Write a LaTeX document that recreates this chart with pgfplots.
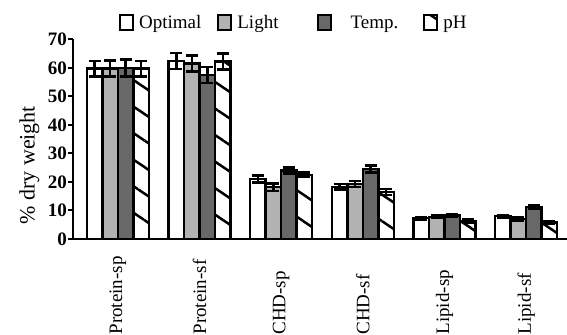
\documentclass[border=0pt]{standalone}
\usepackage{fontspec}
\setmainfont{Liberation Serif}
\usepackage{pgfplots}
\pgfplotsset{compat=1.18}
\usetikzlibrary{patterns.meta,calc}
\definecolor{lightbar}{HTML}{B2B2B2}
\definecolor{darkbar}{HTML}{686868}
\pgfplotsset{
  mybar/.style={draw=black, line width=2.5bp,
    error bars/.cd, y dir=both, y explicit,
    error bar style={line width=2.5bp, black, solid},
    error mark options={rotate=90, line width=2.5bp, mark size=6bp, black, solid},
    /pgfplots/.cd},
}
\begin{document}
\begin{tikzpicture}
\begin{axis}[name=ax,
  scale only axis, width=494bp, height=199.5bp,
  xmin=-0.55, xmax=5.5, ymin=0, ymax=70,
  axis lines*=left, axis line style={line width=2.5bp},
  ybar=0pt, bar width=15.5bp,
  xtick={0,...,5},
  xticklabels={Protein-sp,Protein-sf,CHD-sp,CHD-sf,Lipid-sp,Lipid-sf},
  x tick style={draw=none},
  ytick={0,10,...,70},
  y tick style={line width=2bp, black},
  tick align=outside, major tick length=5bp,
  /pgf/number format/assume math mode=true,
  yticklabel style={font=\fontsize{19bp}{22bp}\selectfont\bfseries, inner sep=1bp},
  xticklabel style={font=\fontsize{19bp}{22bp}\selectfont, rotate=90, anchor=west, xshift=-94bp},
  ylabel={\% dry weight},
  every axis y label/.style={at={(ticklabel cs:0.37)}, rotate=90, anchor=south,
    font=\fontsize{22bp}{24bp}\selectfont, yshift=4bp},
  legend columns=4,
  legend style={draw=none, fill=none, at={(rel axis cs:0.093,1.083)}, anchor=west,
    font=\fontsize{19bp}{22bp}\selectfont, inner sep=0pt,
    /tikz/every even column/.append style={column sep=14bp},
    /tikz/every odd column/.append style={column sep=3bp}},
  legend image code/.code={\draw[#1,line width=2bp] (0bp,-7.5bp) rectangle (13bp,7.5bp);},
]
\addplot[fill=white, mybar] coordinates {
  (0,59.8) +- (0,2.7)
  (1,62.5) +- (0,2.8)
  (2,21.0) +- (0,1.2)
  (3,18.3) +- (0,1.0)
  (4,7.3) +- (0,0.5)
  (5,8.0) +- (0,0.5)
};
\addplot[fill=lightbar, mybar] coordinates {
  (0,59.8) +- (0,2.8)
  (1,61.5) +- (0,2.8)
  (2,18.2) +- (0,1.3)
  (3,19.3) +- (0,1.0)
  (4,7.8) +- (0,0.5)
  (5,7.0) +- (0,0.5)
};
\addplot[fill=darkbar, mybar] coordinates {
  (0,60.0) +- (0,2.9)
  (1,57.5) +- (0,2.8)
  (2,24.0) +- (0,1.0)
  (3,24.5) +- (0,1.2)
  (4,8.3) +- (0,0.5)
  (5,11.2) +- (0,0.5)
};
\addplot[fill=white, postaction={pattern={Lines[angle=-34,distance=22bp,line width=2.5bp]}}, mybar] coordinates {
  (0,59.8) +- (0,2.7)
  (1,62.3) +- (0,2.8)
  (2,22.5) +- (0,0.8)
  (3,16.5) +- (0,1.0)
  (4,6.3) +- (0,0.5)
  (5,5.8) +- (0,0.5)
};
\legend{Optimal,Light\rule{22bp}{0pt},\rule{14bp}{0pt}Temp.\rule{9bp}{0pt},pH}
\end{axis}
\pgfresetboundingbox
\path[use as bounding box] ($(ax.south west)+(-73bp,-96bp)$) rectangle ($(ax.north east)+(0bp,39.5bp)$);
\end{tikzpicture}
\end{document}
